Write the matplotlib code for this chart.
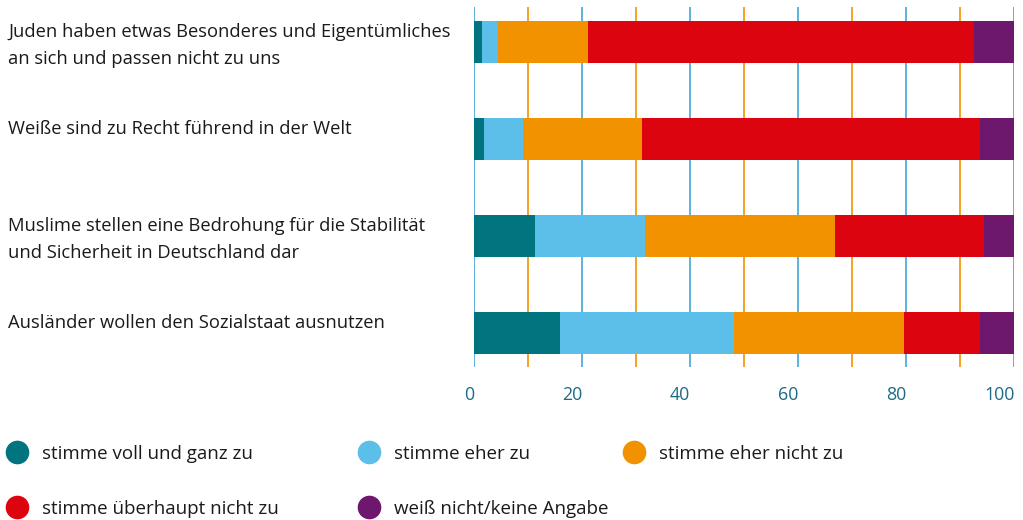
import matplotlib
matplotlib.use("Agg")
import matplotlib.pyplot as plt
import matplotlib.transforms as mtransforms
from matplotlib.lines import Line2D

plt.rcParams['font.family'] = ['Open Sans', 'DejaVu Sans']

categories = [
    "Juden haben etwas Besonderes und Eigentümliches\nan sich und passen nicht zu uns",
    "Weiße sind zu Recht führend in der Welt",
    "Muslime stellen eine Bedrohung für die Stabilität\nund Sicherheit in Deutschland dar",
    "Ausländer wollen den Sozialstaat ausnutzen",
]
series_names = [
    "stimme voll und ganz zu",
    "stimme eher zu",
    "stimme eher nicht zu",
    "stimme überhaupt nicht zu",
    "weiß nicht/keine Angabe",
]
voll = [1.4, 1.8, 11.2, 15.9]
eher = [2.9, 7.3, 20.5, 32.1]
eher_nicht = [16.7, 22.0, 35.1, 31.6]
ueberhaupt_nicht = [71.5, 62.6, 27.5, 14.1]
weiss_nicht = [7.5, 6.3, 5.7, 6.3]
series = [voll, eher, eher_nicht, ueberhaupt_nicht, weiss_nicht]
colors = ["#00747f", "#5bbfe9", "#f39200", "#dc040f", "#6d176d"]
xticks = [0, 20, 40, 60, 80, 100]

W, H = 1023, 520
fig = plt.figure(figsize=(W / 100, H / 100), dpi=100)
ax = fig.add_axes([474.3 / W, 1 - 367 / H, 540 / W, 360 / H])

ypos = list(range(len(categories)))
bar_h = 42 / 97
left = [0.0] * len(categories)
for vals, col, name in zip(series, colors, series_names):
    ax.barh(ypos, vals, left=left, height=bar_h, color=col, label=name, zorder=3, linewidth=0)
    left = [l + v for l, v in zip(left, vals)]

for g in range(0, 101, 10):
    gc = "#3ea6d3" if g % 20 == 0 else "#f39200"
    ax.axvline(g, color=gc, linewidth=1.2, zorder=1)

ax.set_xlim(0, 100)
ax.set_ylim((367 - 42) / 97, (7 - 42) / 97)
ax.set_xticks(xticks)
ax.set_xticklabels([str(t) for t in xticks])
ax.tick_params(axis='x', length=0, pad=14, labelsize=12.8, labelcolor="#1b6a86")
for lab in ax.get_xticklabels():
    lab.set_horizontalalignment('right')
ax.set_yticks([])
for s in ax.spines.values():
    s.set_visible(False)

trans = mtransforms.blended_transform_factory(fig.transFigure, ax.transData)
for i, cat in enumerate(categories):
    fig.text(8 / W, i - bar_h / 2 + 2 / 97, cat, transform=trans, ha='left', va='top',
             fontsize=13.2, color="#1a1a1a", linespacing=1.62)

# legend entries placed in a grid
pos = [(17, 454), (369, 454), (634, 454), (17, 508.5), (369, 508.5)]
fs = 13.5
fs_px = fs * 100 / 72
for (cx, cy), col, name in zip(pos, colors, series_names):
    h = Line2D([], [], linestyle='none', marker='o', markersize=16, color=col)
    x0 = cx - fs_px * 0.5
    pad = (cx + 25 - x0 - fs_px) / fs_px
    leg = fig.legend([h], [name], loc='center left', bbox_to_anchor=(x0 / W, 1 - cy / H),
                     frameon=False, fontsize=fs, handlelength=1.0, handletextpad=pad,
                     borderpad=0, borderaxespad=0)
    for t in leg.get_texts():
        t.set_color("#1a1a1a")

fig.savefig("out.png", dpi=100)
